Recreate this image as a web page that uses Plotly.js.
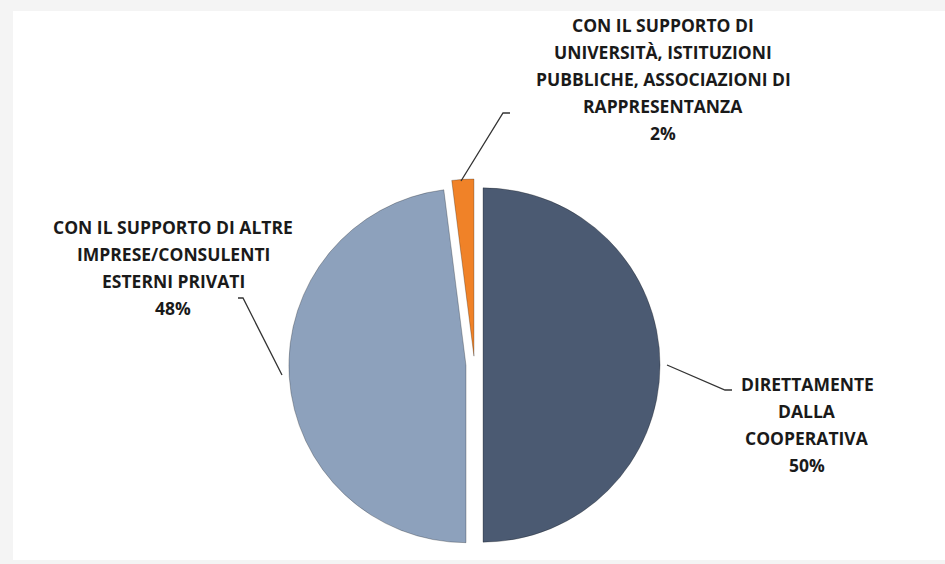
<!DOCTYPE html>
<html>
<head>
<meta charset="utf-8">
<script src="https://cdn.plot.ly/plotly-3.0.1.min.js"></script>
<style>html,body{margin:0;padding:0;background:#f4f4f4;}#chart{width:945px;height:564px;}</style>
</head>
<body>
<div id="chart"></div>
<script>
// Data
var categories = [
  "DIRETTAMENTE<br>DALLA<br>COOPERATIVA",
  "CON IL SUPPORTO DI ALTRE<br>IMPRESE/CONSULENTI<br>ESTERNI PRIVATI",
  "CON IL SUPPORTO DI<br>UNIVERSITÀ, ISTITUZIONI<br>PUBBLICHE, ASSOCIAZIONI DI<br>RAPPRESENTANZA"
];
var values = [50, 48, 2];
var colors = ["#4b5a72", "#8da1bc", "#f08228"];
var pulls = [0.048, 0.048, 0.05];

var total = values.reduce(function(a,b){return a+b;},0);
// first-line centre of each label block
var labelPos = [
  {x: 807, y: 384},
  {x: 173, y: 227},
  {x: 663, y: 25}
];
var lineGap = 27;
var W = 945, H = 564;
var annotations = [];
categories.forEach(function(c, i){
  var lines = c.split('<br>');
  lines.push(Math.round(values[i] / total * 100) + '%');
  lines.forEach(function(t, k){
    annotations.push({
      xref: 'paper', yref: 'paper',
      x: labelPos[i].x / W, y: 1 - (labelPos[i].y + k * lineGap) / H,
      xanchor: 'center', yanchor: 'middle',
      text: '<b>' + t + '</b>',
      showarrow: false, align: 'center',
      font: {family: 'Open Sans, sans-serif', size: 17.5, color: '#1a1a1a'}
    });
  });
});
function seg(pts){
  var p = 'M ' + pts.map(function(q){return (q[0]/W) + ' ' + (1 - q[1]/H);}).join(' L ');
  return {type: 'path', xref: 'paper', yref: 'paper', path: p, line: {color: '#333', width: 1.3}, layer: 'above'};
}
var shapes = [
  {type: 'rect', xref: 'paper', yref: 'paper', x0: 13/W, x1: 1, y0: 1 - 560/H, y1: 1 - 11/H,
   fillcolor: '#ffffff', line: {width: 0}, layer: 'below'},
  seg([[667,365],[725,390],[732,390]]),
  seg([[282,375],[243,298],[238,298]]),
  seg([[461,181],[503,113],[510,113]])
];

var cx = 474.5, cy = 365, R = 186;
var trace = {
  type: 'pie',
  values: values,
  labels: categories,
  marker: {colors: colors, line: {color: 'rgba(0,0,0,0.25)', width: 1}},
  pull: pulls,
  sort: false,
  direction: 'clockwise',
  rotation: 0,
  textinfo: 'none',
  hoverinfo: 'label+percent',
  showlegend: false,
  domain: {x: [(cx - R)/W, (cx + R)/W], y: [1 - (cy + R)/H, 1 - (cy - R)/H]}
};
Plotly.newPlot('chart', [trace], {
  width: W, height: H,
  margin: {l: 0, r: 0, t: 0, b: 0},
  paper_bgcolor: '#f4f4f4',
  showlegend: false,
  annotations: annotations,
  shapes: shapes
}, {displayModeBar: false});
</script>
</body>
</html>
